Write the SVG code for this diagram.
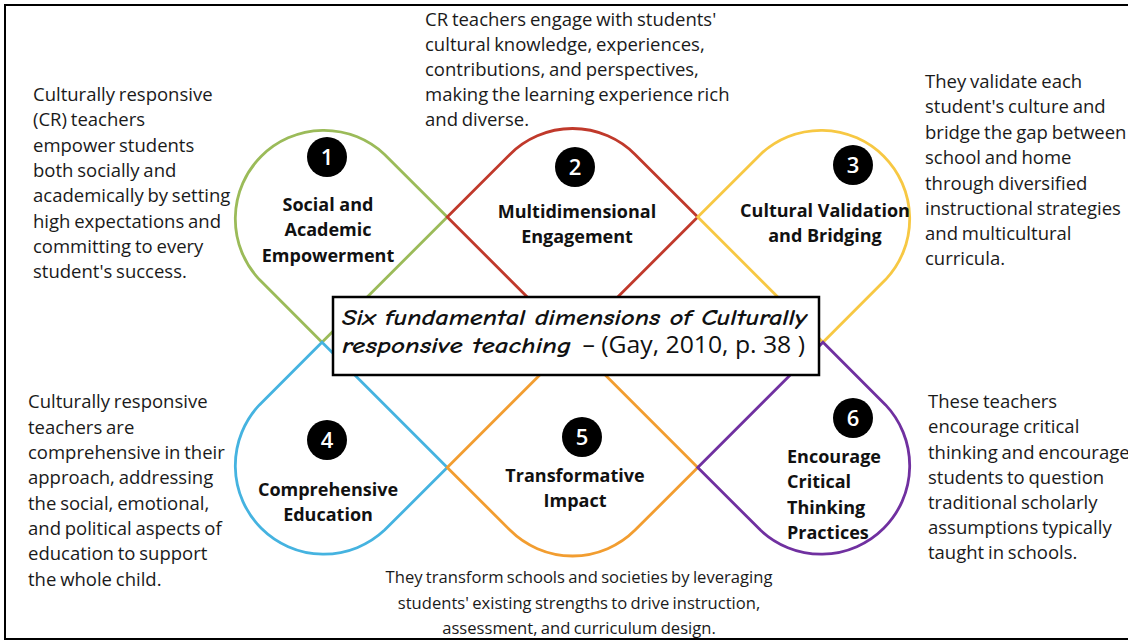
<svg xmlns="http://www.w3.org/2000/svg" width="1128" height="643" viewBox="0 0 1128 643">
  <style>
    .petal { fill: none; stroke-width: 2.8; stroke-linejoin: miter; }
    .body { font-family: "Open Sans", "Liberation Sans", sans-serif; font-size: 18.5px; fill: #1a1a1a; word-spacing: -1px; }
    .foot { font-family: "Open Sans", "Liberation Sans", sans-serif; font-size: 16.6px; fill: #1a1a1a; word-spacing: -1px; text-anchor: middle; }
    .label { font-family: "Open Sans", "Liberation Sans", sans-serif; font-size: 18px; font-weight: 700; fill: #111; text-anchor: middle; }
    .label-l { font-family: "Open Sans", "Liberation Sans", sans-serif; font-size: 18px; font-weight: 700; fill: #111; text-anchor: start; }
    .num { font-family: "Open Sans", "Liberation Sans", sans-serif; font-size: 22px; font-weight: 600; fill: #fff; text-anchor: middle; }
    .title { font-family: "Comic Sans MS", "Comic Neue", "DejaVu Sans", sans-serif; font-size: 21px; font-style: italic; font-weight: 700; fill: #111; }
    .cite { font-family: "Open Sans", "Liberation Sans", sans-serif; font-style: normal; font-weight: 400; font-size: 23px; }
  </style>

  <rect x="0" y="0" width="1128" height="643" fill="#fff"/>
  <!-- outer frame -->
  <rect x="5" y="5" width="1200" height="634" fill="none" stroke="#000" stroke-width="2"/>

  <!-- six petal outlines -->
  <g id="connectors">
    <path id="petal-1" class="petal" stroke="#9BBB59" d="M 384.6 154.4 L 447.25 217 L 322 342.25 L 259.4 279.6 A 88.57 88.57 0 0 1 384.6 154.4 Z"/>
    <path id="petal-2" class="petal" stroke="#C0392B" d="M 447.25 217 L 509.9 154.4 A 88.57 88.57 0 0 1 635.1 154.4 L 697.75 217 L 572.5 342.25 Z"/>
    <path id="petal-3" class="petal" stroke="#F7C843" d="M 823 342.25 L 697.75 217 L 760.4 154.4 A 88.57 88.57 0 0 1 885.6 279.6 Z"/>
    <path id="petal-4" class="petal" stroke="#45B3E0" d="M 322 342.25 L 447.25 467.5 L 384.6 530.1 A 88.57 88.57 0 0 1 259.4 404.9 Z"/>
    <path id="petal-5" class="petal" stroke="#F29D30" d="M 447.25 467.5 L 572.5 342.25 L 697.75 467.5 L 635.1 530.1 A 88.57 88.57 0 0 1 509.9 530.1 Z"/>
    <path id="petal-6" class="petal" stroke="#7030A0" d="M 697.75 467.5 L 823 342.25 L 885.6 404.9 A 88.57 88.57 0 0 1 760.4 530.1 Z"/>
  </g>

  <g id="node-1">
    <circle cx="327" cy="157" r="20" fill="#000"/>
    <text class="num" x="327" y="165">1</text>
    <text class="label" x="328" y="211">Social and</text>
    <text class="label" x="328" y="236">Academic</text>
    <text class="label" x="328" y="262">Empowerment</text>
  </g>

  <g id="node-2">
    <circle cx="575" cy="167" r="20" fill="#000"/>
    <text class="num" x="575" y="175">2</text>
    <text class="label" x="577" y="218">Multidimensional</text>
    <text class="label" x="577" y="243">Engagement</text>
  </g>

  <g id="node-3">
    <circle cx="853" cy="165" r="20" fill="#000"/>
    <text class="num" x="853" y="173">3</text>
    <text class="label" x="825" y="217">Cultural Validation</text>
    <text class="label" x="825" y="242">and Bridging</text>
  </g>

  <g id="node-4">
    <circle cx="327" cy="440" r="20" fill="#000"/>
    <text class="num" x="327" y="448">4</text>
    <text class="label" x="328" y="496">Comprehensive</text>
    <text class="label" x="328" y="521">Education</text>
  </g>

  <g id="node-5">
    <circle cx="582" cy="437" r="20" fill="#000"/>
    <text class="num" x="582" y="445">5</text>
    <text class="label" x="575" y="482">Transformative</text>
    <text class="label" x="575" y="507">Impact</text>
  </g>

  <g id="node-6">
    <circle cx="853" cy="418" r="20" fill="#000"/>
    <text class="num" x="853" y="426">6</text>
    <text class="label-l" x="787" y="463">Encourage</text>
    <text class="label-l" x="787" y="488">Critical</text>
    <text class="label-l" x="787" y="514">Thinking</text>
    <text class="label-l" x="787" y="539">Practices</text>
  </g>

  <!-- central title box -->
  <g id="title">
    <rect x="333" y="297" width="486" height="78" fill="#fff" stroke="#000" stroke-width="2.5"/>
    <text class="title" x="342" y="325" textLength="465" lengthAdjust="spacingAndGlyphs">Six fundamental dimensions of Culturally</text>
    <text class="title" x="342" y="353"><tspan textLength="229" lengthAdjust="spacingAndGlyphs">responsive teaching</tspan><tspan class="cite" x="576" textLength="229" lengthAdjust="spacingAndGlyphs"> – (Gay, 2010, p. 38 )</tspan></text>
  </g>

  <!-- descriptive texts -->
  <g id="text-1">
    <text class="body" x="33" y="101">Culturally responsive</text>
    <text class="body" x="33" y="126">(CR) teachers</text>
    <text class="body" x="33" y="152">empower students</text>
    <text class="body" x="33" y="177">both socially and</text>
    <text class="body" x="33" y="202">academically by setting</text>
    <text class="body" x="33" y="228">high expectations and</text>
    <text class="body" x="33" y="253">committing to every</text>
    <text class="body" x="33" y="278">student's success.</text>
  </g>

  <g id="text-2">
    <text class="body" x="425" y="26">CR teachers engage with students'</text>
    <text class="body" x="425" y="51">cultural knowledge, experiences,</text>
    <text class="body" x="425" y="76">contributions, and perspectives,</text>
    <text class="body" x="425" y="101">making the learning experience rich</text>
    <text class="body" x="425" y="126">and diverse.</text>
  </g>

  <g id="text-3">
    <text class="body" x="925" y="88">They validate each</text>
    <text class="body" x="925" y="113">student's culture and</text>
    <text class="body" x="925" y="139">bridge the gap between</text>
    <text class="body" x="925" y="164">school and home</text>
    <text class="body" x="925" y="190">through diversified</text>
    <text class="body" x="925" y="215">instructional strategies</text>
    <text class="body" x="925" y="240">and multicultural</text>
    <text class="body" x="925" y="265">curricula.</text>
  </g>

  <g id="text-4">
    <text class="body" x="28" y="408">Culturally responsive</text>
    <text class="body" x="28" y="434">teachers are</text>
    <text class="body" x="28" y="459">comprehensive in their</text>
    <text class="body" x="28" y="484">approach, addressing</text>
    <text class="body" x="28" y="510">the social, emotional,</text>
    <text class="body" x="28" y="535">and political aspects of</text>
    <text class="body" x="28" y="560">education to support</text>
    <text class="body" x="28" y="586">the whole child.</text>
  </g>

  <g id="text-5">
    <text class="foot" x="579" y="583">They transform schools and societies by leveraging</text>
    <text class="foot" x="579" y="609">students' existing strengths to drive instruction,</text>
    <text class="foot" x="579" y="634">assessment, and curriculum design.</text>
  </g>

  <g id="text-6">
    <text class="body" x="928" y="408">These teachers</text>
    <text class="body" x="928" y="433">encourage critical</text>
    <text class="body" x="928" y="459">thinking and encourage</text>
    <text class="body" x="928" y="484">students to question</text>
    <text class="body" x="928" y="509">traditional scholarly</text>
    <text class="body" x="928" y="534">assumptions typically</text>
    <text class="body" x="928" y="559">taught in schools.</text>
  </g>
</svg>
